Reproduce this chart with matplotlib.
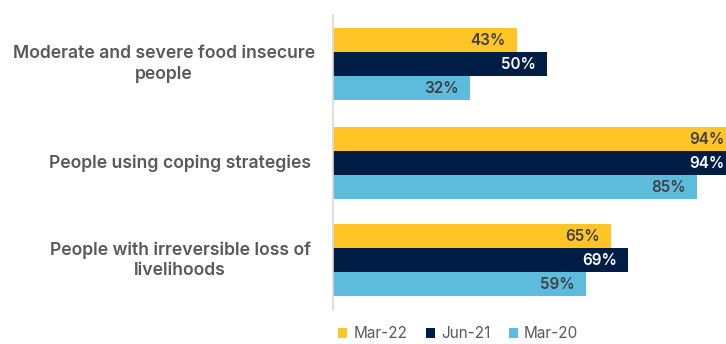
import numpy as np
import matplotlib.pyplot as plt

categories = ["Moderate and severe food insecure\npeople",
              "People using coping strategies",
              "People with irreversible loss of\nlivelihoods"]
series = ["Mar-22", "Jun-21", "Mar-20"]
mar22 = [43, 94, 65]
jun21 = [50, 94, 69]
mar20 = [32, 85, 59]

colors = ["#FFC527", "#001E45", "#5DBCDD"]
label_colors = ["#404040", "white", "#404040"]

plt.rcParams['font.family'] = ['Inter', 'DejaVu Sans']

W, H = 726, 344
fig = plt.figure(figsize=(W / 100, H / 100), dpi=100)
# axes runs past the right edge so the longest bars get cut off
ax = fig.add_axes([333 / W, (H - 310) / H, 428 / W, 295 / H])

bar_h = 24
group_y = np.array([64, 163, 260])
values = [mar22, jun21, mar20]
for i, (vals, c, lc) in enumerate(zip(values, colors, label_colors)):
    y = group_y + (i - 1) * bar_h
    ax.barh(y, vals, height=bar_h, color=c, label=series[i])
    for yy, v in zip(y, vals):
        ax.annotate(f"{v}%", (v, yy), xytext=(-8, 0), textcoords="offset points",
                    ha="right", va="center", fontsize=11, fontweight="semibold",
                    color=lc)

ax.set_xlim(0, 100)
ax.set_ylim(310, 15)
ax.set_xticks([])
ax.set_yticks([])
for s in ["top", "right", "bottom"]:
    ax.spines[s].set_visible(False)
ax.spines["left"].set_color("#D9D9D9")
ax.spines["left"].set_linewidth(1.2)

# category labels
label_x = [164, 180, 180]
for cat, lx, gy in zip(categories, label_x, group_y):
    fig.text(lx / W, 1 - gy / H, cat, ha="center", va="center",
             multialignment="center", fontsize=12.7, fontweight="semibold",
             color="#595959", linespacing=1.25)

leg = fig.legend(loc="center", bbox_to_anchor=(458 / W, 1 - 334 / H), ncol=3,
                 frameon=False, fontsize=11, handlelength=0.6, handleheight=0.6,
                 handletextpad=0.4, columnspacing=1.2)
for t in leg.get_texts():
    t.set_color("#595959")

fig.savefig("out.png", dpi=100)
